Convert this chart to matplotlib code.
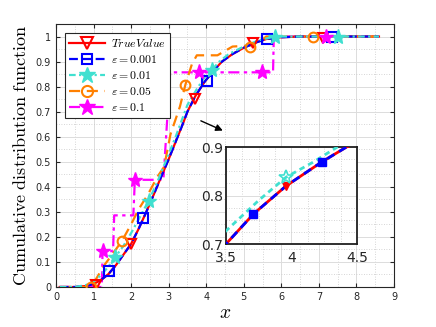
import matplotlib
matplotlib.use("Agg")
import matplotlib.pyplot as plt
from matplotlib.ticker import MultipleLocator

plt.rcParams['mathtext.fontset'] = 'cm'

# ---- data ----
true_x = [0.1, 0.5, 0.8, 1.0, 1.2, 1.4, 1.6, 1.8, 2.0, 2.2, 2.4, 2.6, 2.8, 3.0, 3.2, 3.4, 3.5,
          3.71, 3.96, 4.23, 4.42, 4.7, 5.0, 5.3, 5.6, 6.0, 6.5, 8.6]
true_y = [0.0, 0.0, 0.004, 0.012, 0.028, 0.052, 0.088, 0.13, 0.172, 0.232, 0.298, 0.368, 0.44,
          0.51, 0.585, 0.66, 0.70, 0.762, 0.82, 0.869, 0.90, 0.93, 0.955, 0.975, 0.99, 0.997, 1.0, 1.0]

e001_x = true_x
e001_y = true_y

e01_x = [0.1, 0.5, 0.8, 1.0, 1.2, 1.4, 1.58, 1.8, 2.0, 2.2, 2.47, 2.7, 3.0, 3.2, 3.5, 3.75,
         3.96, 4.16, 4.35, 4.6, 5.0, 5.4, 5.84, 8.6]
e01_y = [0.0, 0.0, 0.008, 0.022, 0.048, 0.082, 0.12, 0.165, 0.215, 0.27, 0.345, 0.42, 0.53,
         0.605, 0.727, 0.79, 0.838, 0.868, 0.90, 0.93, 0.96, 0.985, 1.0, 1.0]

e05_x = [0.1, 0.85, 0.95, 1.1, 1.3, 1.5, 1.76, 2.0, 2.2, 2.45, 2.7, 2.88, 3.05, 3.3, 3.45,
         3.62, 3.75, 4.3, 4.7, 5.3, 5.6, 8.6]
e05_y = [0.0, 0.0, 0.005, 0.04, 0.09, 0.13, 0.185, 0.25, 0.31, 0.37, 0.44, 0.48, 0.61, 0.72,
         0.81, 0.89, 0.925, 0.925, 0.96, 0.965, 1.0, 1.0]

e1_x = [0.1, 1.22, 1.24, 1.52, 1.55, 2.06, 2.1, 2.86, 3.04, 5.78, 5.8, 8.6]
e1_y = [0.0, 0.0, 0.143, 0.143, 0.286, 0.286, 0.428, 0.428, 0.857, 0.857, 1.0, 1.0]

# marker positions (main axes)
true_mx = [1.07, 2.0, 3.71, 5.25, 7.1]
true_my = [0.01, 0.17, 0.752, 0.975, 0.995]
e001_mx = [1.41, 2.32, 4.02, 5.63, 7.36]
e001_my = [0.064, 0.276, 0.824, 0.99, 1.0]
e01_mx = [1.58, 2.47, 4.16, 5.84, 7.52]
e01_my = [0.12, 0.345, 0.868, 1.0, 1.0]
e05_mx = [0.93, 1.76, 3.44, 5.17, 6.85]
e05_my = [0.0, 0.185, 0.808, 0.96, 1.0]
e1_mx = [1.25, 2.1, 3.8, 5.49, 7.2]
e1_my = [0.143, 0.428, 0.857, 0.857, 1.0]

# marker positions (inset)
in_true_mx = [3.96]
in_true_my = [0.82]
in_e001_mx = [3.71, 4.23]
in_e001_my = [0.762, 0.869]
in_e01_mx = [3.96]
in_e01_my = [0.838]

labels = [r'$TrueValue$', r'$\varepsilon=0.001$', r'$\varepsilon=0.01$',
          r'$\varepsilon=0.05$', r'$\varepsilon=0.1$']

c_red = '#FF0000'
c_blue = '#0000FF'
c_cyan = '#40E0D0'
c_orange = '#FF8000'
c_mag = '#FF00FF'

fig = plt.figure(figsize=(4.36, 3.27), dpi=100)
ax = fig.add_axes([0.1284, 0.1223, 0.7752, 0.8043])

def style_axes(a, fs):
    a.tick_params(which='both', direction='in', top=True, right=True, labelsize=fs,
                  colors='#262626', length=3)
    a.tick_params(which='minor', length=0)
    a.grid(which='major', color='#DCDCDC', linewidth=0.7, linestyle='-')
    a.grid(which='minor', color='#C8C8C8', linewidth=0.6, linestyle=(0, (1, 2)))
    a.set_axisbelow(True)
    for s in a.spines.values():
        s.set_color('#262626')
        s.set_linewidth(0.8)

lw = 1.6
ms = 7
ax.plot(true_x, true_y, color=c_red, lw=lw, ls='-', zorder=3)
ax.plot(e001_x, e001_y, color=c_blue, lw=lw, ls=(0, (4, 2)), zorder=4)
ax.plot(e01_x, e01_y, color=c_cyan, lw=lw, ls=(0, (3, 1.5, 1, 1.5)), zorder=5)
ax.plot(e05_x, e05_y, color=c_orange, lw=lw, ls=(0, (5, 3)), zorder=3)
ax.plot(e1_x, e1_y, color=c_mag, lw=lw, ls=(0, (5, 2, 1.5, 2)), zorder=2)

ax.plot(true_mx, true_my, ls='none', marker='v', ms=ms, mfc='none', mec=c_red, mew=1.5, zorder=6)
ax.plot(e001_mx, e001_my, ls='none', marker='s', ms=ms, mfc='none', mec=c_blue, mew=1.5, zorder=6)
ax.plot(e01_mx, e01_my, ls='none', marker='*', ms=ms + 4, mfc=c_cyan, mec=c_cyan, zorder=6)
ax.plot(e05_mx, e05_my, ls='none', marker='o', ms=ms, mfc='none', mec=c_orange, mew=1.5, zorder=6)
ax.plot(e1_mx, e1_my, ls='none', marker='*', ms=ms + 4, mfc=c_mag, mec=c_mag, zorder=6)

# legend proxies
h_true, = ax.plot([], [], color=c_red, lw=lw, marker='v', ms=ms + 1, mfc='none', mew=1.5)
h_001, = ax.plot([], [], color=c_blue, lw=lw, ls=(0, (4, 2)), marker='s', ms=ms, mfc='none', mew=1.5)
h_01, = ax.plot([], [], color=c_cyan, lw=lw, ls=(0, (3, 1.5, 1, 1.5)), marker='*', ms=ms + 5)
h_05, = ax.plot([], [], color=c_orange, lw=lw, ls=(0, (5, 3)), marker='o', ms=ms + 1, mfc='none', mew=1.5)
h_1, = ax.plot([], [], color=c_mag, lw=lw, ls=(0, (5, 2, 1.5, 2)), marker='*', ms=ms + 5)
leg = ax.legend([h_true, h_001, h_01, h_05, h_1], labels, loc='upper left',
                bbox_to_anchor=(0.02, 0.975), fontsize=8.5, frameon=True, fancybox=False,
                edgecolor='#262626', framealpha=1, handlelength=3.0, borderpad=0.35,
                labelspacing=0.25, handletextpad=0.5, borderaxespad=0.2)
leg.get_frame().set_linewidth(0.8)

ax.set_xlim(0, 9)
ax.set_ylim(0, 1.05)
ax.xaxis.set_major_locator(MultipleLocator(1))
ax.xaxis.set_minor_locator(MultipleLocator(0.5))
ax.yaxis.set_minor_locator(MultipleLocator(0.05))
ax.set_yticks([0, 0.1, 0.2, 0.3, 0.4, 0.5, 0.6, 0.7, 0.8, 0.9, 1.0])
ax.set_yticklabels(['0', '0.1', '0.2', '0.3', '0.4', '0.5', '0.6', '0.7', '0.8', '0.9', '1'])
style_axes(ax, 7)
ax.set_xlabel(r'$x$', fontsize=14, labelpad=1)
ax.set_ylabel(r'$\mathrm{Cumulative\ distribution\ function}$', fontsize=13, labelpad=4)

ax.annotate('', xy=(4.51, 0.62), xytext=(3.79, 0.668),
            arrowprops=dict(arrowstyle='-|>', color='black', lw=1.0, mutation_scale=10), zorder=7)

# inset (only the three closest curves are visible in the reference)
ins = fig.add_axes([0.5183, 0.2538, 0.3005, 0.2966])
ins.plot(true_x, true_y, color=c_red, lw=2.0, ls='-', zorder=3)
ins.plot(e001_x, e001_y, color=c_blue, lw=2.0, ls=(0, (3, 2)), zorder=4)
ins.plot(e01_x, e01_y, color=c_cyan, lw=2.0, ls=(0, (2, 1.5)), zorder=5)
ins.plot(in_true_mx, in_true_my, ls='none', marker='v', ms=6, mfc=c_red, mec=c_red, zorder=6)
ins.plot(in_e001_mx, in_e001_my, ls='none', marker='s', ms=6, mfc=c_blue, mec=c_blue, zorder=6)
ins.plot(in_e01_mx, in_e01_my, ls='none', marker='*', ms=10, mfc='none', mec=c_cyan, mew=1.2, zorder=6)
ins.set_xlim(3.5, 4.5)
ins.set_ylim(0.7, 0.9)
ins.set_xticks([3.5, 4, 4.5])
ins.set_xticklabels(['3.5', '4', '4.5'])
ins.set_yticks([0.7, 0.8, 0.9])
ins.set_yticklabels(['0.7', '0.8', '0.9'])
ins.xaxis.set_minor_locator(MultipleLocator(0.125))
ins.yaxis.set_minor_locator(MultipleLocator(0.025))
style_axes(ins, 10)
ins.tick_params(which='major', length=0)
ins.tick_params(axis='x', which='major', pad=5)
ins.tick_params(axis='y', which='major', pad=2)
for s in ins.spines.values():
    s.set_linewidth(1.3)
    s.set_color('#202020')
ins.set_zorder(10)

fig.savefig('out.png', dpi=100)
